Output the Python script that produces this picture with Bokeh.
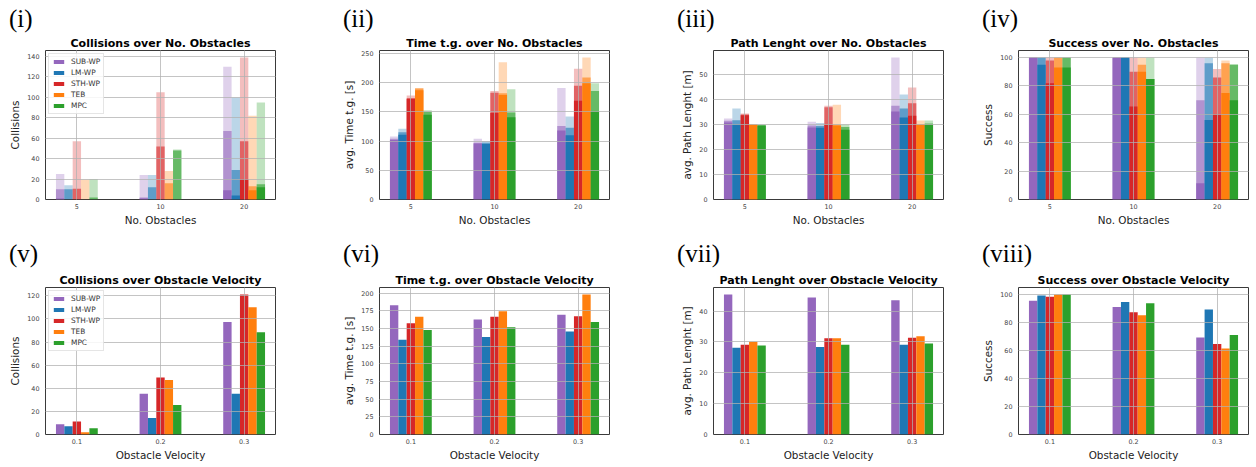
import numpy as np
from bokeh.plotting import figure
from bokeh.layouts import column, row
from bokeh.models import Range1d, FixedTicker, Title, Legend, LegendItem
from bokeh.embed import file_html
from bokeh.resources import INLINE

methods = ["SUB-WP", "LM-WP", "STH-WP", "TEB", "MPC"]
colors = ["#9467bd", "#1f77b4", "#d62728", "#ff7f0e", "#2ca02c"]
obstacle_labels = ["5", "10", "20"]
velocity_labels = ["0.1", "0.2", "0.3"]

# ---- top row: per method values at [5, 10, 20] obstacles; high / mid / low over the velocities
coll_obs_high = [[25, 24, 130], [14, 24, 100], [57, 105, 139], [19.5, 28, 82], [20, 49, 95]]
coll_obs_mid = [[10, 2, 67], [10, 12, 29], [10.5, 52, 57], [0, 16, 13], [2, 48, 15]]
coll_obs_low = [[1, 1, 9], [0, 0, 4], [0, 0, 20], [0, 0, 9], [0, 0, 12]]

time_obs_high = [[108, 104, 191], [121, 100, 142], [178, 186, 224], [191, 235, 243], [153, 189, 199]]
time_obs_mid = [[104, 97, 126], [115, 97, 123], [174, 183, 195], [190, 182, 209], [150, 149, 186]]
time_obs_low = [[102, 96, 118], [111, 95, 110], [172, 148, 169], [187, 179, 199], [145, 141, 151]]

path_obs_high = [[32.3, 31.0, 56.6], [36.3, 30.5, 41.9], [34.3, 37.4, 44.7], [30.0, 37.8, 31.5], [29.9, 29.9, 31.5]]
path_obs_mid = [[31.4, 29.5, 37.4], [31.6, 29.3, 36.3], [33.9, 36.8, 38.4], [29.9, 29.8, 30.0], [29.7, 28.9, 30.3]]
path_obs_low = [[30.7, 28.7, 35.1], [30.0, 28.6, 32.7], [33.6, 29.8, 33.4], [29.8, 29.5, 29.8], [29.4, 27.8, 29.8]]

succ_obs_high = [[100, 100, 100], [100, 100, 100], [100, 100, 92], [100, 100, 98], [100, 100, 95.3]]
succ_obs_mid = [[100, 100, 70], [100, 100, 96], [98, 90, 86], [100, 95, 96], [100, 85, 95]]
succ_obs_low = [[100, 100, 11.5], [95, 100, 56], [82, 65.5, 60], [93, 90, 75], [93, 85, 70]]

# ---- bottom row: per method values at velocities [0.1, 0.2, 0.3]
coll_vel = [[8.8, 35.2, 97.3], [7.1, 14.2, 35.2], [11.3, 49.4, 121.1], [2, 47.1, 110], [5.4, 25.5, 88.5]]
time_vel = [[182.8, 162.9, 169.4], [134.1, 137.8, 145.7], [157.3, 166.6, 167.5], [166.6, 174.5, 198.1], [148, 151.7, 159.2]]
path_vel = [[45.4, 44.4, 43.5], [28.1, 28.4, 29.1], [29.1, 31.2, 31.4], [30.1, 31.2, 31.9], [28.9, 29.1, 29.5]]
succ_vel = [[95.5, 91.1, 69.2], [99.3, 94.6, 89.2], [98.4, 87.3, 64.6], [100, 85.2, 61.5], [100, 93.7, 71.1]]

ticks_coll_obs = [0, 20, 40, 60, 80, 100, 120, 140]
ticks_time_obs = [0, 50, 100, 150, 200, 250]
ticks_path_obs = [0, 10, 20, 30, 40, 50]
ticks_succ = [0, 20, 40, 60, 80, 100]
ticks_coll_vel = [0, 20, 40, 60, 80, 100, 120]
ticks_time_vel = [0, 25, 50, 75, 100, 125, 150, 175, 200]
ticks_path_vel = [0, 10, 20, 30, 40]

BAR_W = 0.1
FONT = "DejaVu Sans"


def make_panel(numeral, title, xlabel, ylabel, xlabels, yticks, layers, size, borders,
               numeral_standoff, legend=False):
    w, h = size
    bl, br, bt, bb = borders
    ymax = max(max(max(v) for v in vals) for vals, _ in layers) * 1.05
    p = figure(width=w, height=h, x_range=Range1d(-0.375, 2.375), y_range=Range1d(0, ymax),
               output_backend="svg", toolbar_location=None, title=None,
               min_border_left=bl, min_border_right=br, min_border_top=bt, min_border_bottom=bb)
    p.background_fill_color = "white"
    p.border_fill_color = "white"
    p.outline_line_color = "#3a3a3a"
    p.outline_line_width = 1

    items = {}
    xs = np.arange(len(xlabels))
    for vals, alpha in layers:
        for j, (m, c) in enumerate(zip(methods, colors)):
            r = p.vbar(x=xs + (j - 2) * BAR_W, width=BAR_W, top=vals[j], bottom=0,
                       fill_color=c, fill_alpha=alpha, line_color=None)
            if alpha == 1.0:
                items[m] = r

    p.xaxis.ticker = FixedTicker(ticks=list(xs))
    p.xaxis.major_label_overrides = {int(i): s for i, s in zip(xs, xlabels)}
    p.yaxis.ticker = FixedTicker(ticks=yticks)
    p.xaxis.axis_label = xlabel
    p.yaxis.axis_label = ylabel
    for ax in (p.xaxis[0], p.yaxis[0]):
        ax.axis_line_color = None
        ax.major_tick_line_color = None
        ax.minor_tick_line_color = None
        ax.major_tick_out = 0
        ax.major_tick_in = 0
        ax.major_label_text_font = FONT
        ax.major_label_text_font_size = "6.4px"
        ax.major_label_text_color = "#444444"
        ax.axis_label_text_font = FONT
        ax.axis_label_text_font_size = "10.4px"
        ax.axis_label_text_font_style = "normal"
        ax.axis_label_text_color = "#222222"
    p.xaxis.major_label_standoff = 4
    p.xaxis.axis_label_standoff = 2
    p.yaxis.major_label_standoff = 6
    p.yaxis.axis_label_standoff = 3

    for g in (p.xgrid[0], p.ygrid[0]):
        g.grid_line_color = "#b0b0b0"
        g.grid_line_alpha = 0.75
        g.grid_line_width = 1
        g.level = "guide"
    p.xgrid.ticker = FixedTicker(ticks=list(xs))
    p.ygrid.ticker = FixedTicker(ticks=yticks)

    p.add_layout(Title(text=title, align="center", text_font=FONT, text_font_size="11px",
                       text_font_style="bold", text_color="black", standoff=2), "above")
    p.add_layout(Title(text=numeral, align="left", offset=-36.5, text_font="Liberation Serif",
                       text_font_size="25px", text_font_style="normal", text_color="black",
                       standoff=numeral_standoff), "above")

    if legend:
        lg = Legend(items=[LegendItem(label=m, renderers=[items[m]]) for m in methods],
                    location="top_left")
        lg.label_text_font = FONT
        lg.label_text_font_size = "7.4px"
        lg.label_text_color = "#333333"
        lg.glyph_width = 13
        lg.glyph_height = 5
        lg.label_height = 8
        lg.label_standoff = 6
        lg.spacing = 2
        lg.padding = 3
        lg.margin = 3
        lg.border_line_color = "#cccccc"
        lg.background_fill_alpha = 0.85
        p.add_layout(lg)
    return p


top_layers = lambda hi, mid, lo: [(hi, 0.3), (mid, 0.6), (lo, 1.0)]

R1 = (228, 50, 29, 3)   # height, top border, bottom border, numeral standoff
R2 = (235, 59, 28, 8)
cols = [(330, 45, 55), (329, 49, 50), (319, 54, 35), (274, 40, 4)]

def geom(c, r):
    return dict(size=(cols[c][0], r[0]), borders=(cols[c][1], cols[c][2], r[1], r[2]),
                numeral_standoff=r[3])

p1 = make_panel("(i)", "Collisions over No. Obstacles", "No. Obstacles", "Collisions", obstacle_labels,
                ticks_coll_obs, top_layers(coll_obs_high, coll_obs_mid, coll_obs_low), legend=True, **geom(0, R1))
p2 = make_panel("(ii)", "Time t.g. over No. Obstacles", "No. Obstacles", "avg. Time t.g. [s]", obstacle_labels,
                ticks_time_obs, top_layers(time_obs_high, time_obs_mid, time_obs_low), **geom(1, R1))
p3 = make_panel("(iii)", "Path Lenght over No. Obstacles", "No. Obstacles", "avg. Path Lenght [m]", obstacle_labels,
                ticks_path_obs, top_layers(path_obs_high, path_obs_mid, path_obs_low), **geom(2, R1))
p4 = make_panel("(iv)", "Success over No. Obstacles", "No. Obstacles", "Success", obstacle_labels,
                ticks_succ, top_layers(succ_obs_high, succ_obs_mid, succ_obs_low), **geom(3, R1))

p5 = make_panel("(v)", "Collisions over Obstacle Velocity", "Obstacle Velocity", "Collisions", velocity_labels,
                ticks_coll_vel, [(coll_vel, 1.0)], legend=True, **geom(0, R2))
p6 = make_panel("(vi)", "Time t.g. over Obstacle Velocity", "Obstacle Velocity", "avg. Time t.g. [s]", velocity_labels,
                ticks_time_vel, [(time_vel, 1.0)], **geom(1, R2))
p7 = make_panel("(vii)", "Path Lenght over Obstacle Velocity", "Obstacle Velocity", "avg. Path Lenght [m]", velocity_labels,
                ticks_path_vel, [(path_vel, 1.0)], **geom(2, R2))
p8 = make_panel("(viii)", "Success over Obstacle Velocity", "Obstacle Velocity", "Success", velocity_labels,
                ticks_succ, [(succ_vel, 1.0)], **geom(3, R2))

layout = column(row(p1, p2, p3, p4), row(p5, p6, p7, p8))
open("out.html", "w").write(file_html(layout, INLINE))
